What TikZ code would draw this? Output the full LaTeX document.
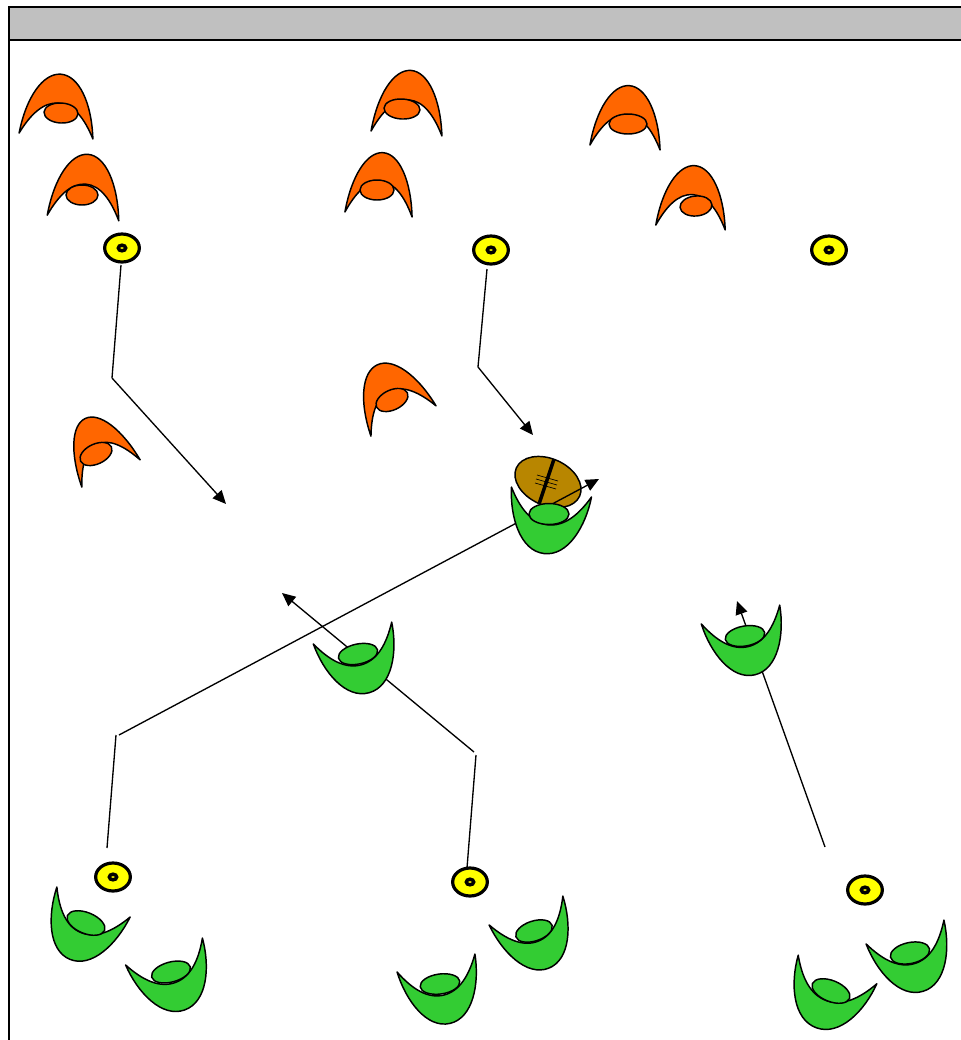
\documentclass[tikz,border=0pt]{standalone}
\usetikzlibrary{arrows.meta,shapes.geometric}
\definecolor{orangepl}{RGB}{255,102,0}
\definecolor{greenpl}{RGB}{51,204,51}
\definecolor{yellowpl}{RGB}{255,255,0}
\definecolor{ballbrown}{RGB}{184,134,0}
\definecolor{headgray}{RGB}{192,192,192}
\tikzset{
  outline/.style={draw=black,line width=1.1pt,line join=round},
  run/.style={draw=black,line width=1pt,-{Triangle[length=10pt,width=9pt]}},
  ring/.style={ellipse,draw=black,fill=yellowpl,line width=2.4pt,minimum width=26pt,minimum height=21pt,inner sep=0pt},
  hub/.style={ellipse,draw=black,fill=yellowpl,line width=2.6pt,minimum width=5.5pt,minimum height=4.2pt,inner sep=0pt},
}
\newcommand{\ctrlX}{33}
\newcommand{\ctrlY}{36}
\newcommand{\ctrlZ}{18}
\newcommand{\pbody}[6]{%
  \begin{scope}[shift={(#1,#2)},rotate=#3,x=0.75pt,y=0.75pt,xscale=#4,yscale=#5]
    \path[outline,fill=#6] (-37,0) .. controls (-\ctrlX,\ctrlY) and (-\ctrlZ,62) .. (0,62)
      .. controls (\ctrlZ,62) and (\ctrlX,\ctrlY) .. (37,0)
      .. controls (27,20) and (15,33) .. (0,33)
      .. controls (-15,33) and (-27,20) .. (-37,0) -- cycle;
  \end{scope}}
\newcommand{\pell}[6]{%
  \begin{scope}[shift={(#1,#2)},rotate=#5,x=0.75pt,y=0.75pt]
    \path[outline,fill=#6] (0,0) ellipse [x radius=#3,y radius=#4];
  \end{scope}}
\begin{document}
\begin{tikzpicture}[x=0.75pt,y=-0.75pt]
\useasboundingbox (0,0) rectangle (961,1040);
% frame
\path[fill=headgray] (9,7) rectangle (961,40);
\draw[black,line width=1.5pt] (961,7) -- (9,7) -- (9,1040);
\draw[black,line width=1.5pt] (9,40) -- (961,40);
% orange players
\pbody{56}{136}{-4.6}{1}{1}{orangepl}\pell{61}{113}{17}{10}{-3}{orangepl}
\pbody{83}{218}{-4.5}{.97}{1.03}{orangepl}\pell{82}{195}{16}{10}{0}{orangepl}
\pbody{406.5}{133.5}{-4}{.96}{1.02}{orangepl}\pell{402}{109}{18}{10}{-3}{orangepl}
\pbody{378.5}{214.5}{-4.3}{.91}{1}{orangepl}\pell{377}{190}{17}{10}{0}{orangepl}
\pbody{625}{147.5}{-4}{.95}{1}{orangepl}\pell{628}{124}{19}{10}{0}{orangepl}
\pbody{690.5}{227.5}{-4}{.94}{1}{orangepl}\pell{696}{206}{16}{10}{5}{orangepl}
\pbody{403.5}{421}{25}{.97}{1}{orangepl}\pell{392}{400}{17}{10}{25}{orangepl}
\pbody{111}{473.5}{25}{.87}{.98}{orangepl}\pell{96}{454}{17}{10}{25}{orangepl}
% ball
\node[ellipse,draw=black,fill=ballbrown,line width=1.1pt,minimum width=52pt,minimum height=35pt,inner sep=0pt,rotate=-24] (ball) at (548,482) {};
\coordinate (stripeA) at (554,459);
\coordinate (stripeB) at (539,504);
\draw[black,line width=2.6pt] (stripeA) -- (stripeB);
\coordinate (lA1) at (537,475); \coordinate (lA2) at (558,481);
\coordinate (lB1) at (536,479); \coordinate (lB2) at (557,485);
\coordinate (lC1) at (535,483); \coordinate (lC2) at (556,489);
\draw[black,line width=.5pt] (lA1) -- (lA2) (lB1) -- (lB2) (lC1) -- (lC2);
% yellow rings
\node[ring] (y1) at (122,248) {}; \node[hub] at (122,248) {};
\node[ring] (y2) at (491,250) {}; \node[hub] at (491,250) {};
\node[ring] (y3) at (829,250) {}; \node[hub] at (829,250) {};
\node[ring] (y4) at (113,877) {}; \node[hub] at (113,877) {};
\node[ring] (y5) at (470,882) {}; \node[hub] at (470,882) {};
\node[ring] (y6) at (865,890) {}; \node[hub] at (865,890) {};
% connectors
\coordinate (a1) at (121,265); \coordinate (a2) at (112,378); \coordinate (a3) at (226,504);
\coordinate (b1) at (487,269); \coordinate (b2) at (478,367); \coordinate (b3) at (533,435);
\coordinate (c1) at (107,848); \coordinate (c2) at (116,735); \coordinate (c3) at (119,735); \coordinate (c4) at (599,479);
\coordinate (d1) at (467,868); \coordinate (d2) at (476,755); \coordinate (d3) at (474,752); \coordinate (d4) at (282,593);
\coordinate (e1) at (825,847); \coordinate (e2) at (737,601);
\draw[black,line width=1pt] (a1) -- (a2);
\draw[run] (a2) -- (a3);
\draw[black,line width=1pt] (b1) -- (b2);
\draw[run] (b2) -- (b3);
\draw[black,line width=1pt] (c1) -- (c2);
\draw[run] (c3) -- (c4);
\draw[black,line width=1pt] (d1) -- (d2);
\draw[run] (d3) -- (d4);
\draw[run] (e1) -- (e2);
% green players
\renewcommand{\ctrlX}{35}\renewcommand{\ctrlY}{30}\renewcommand{\ctrlZ}{22}
\pbody{551.5}{492}{173}{1.09}{1}{greenpl}\pell{549}{514}{20}{10.5}{0}{greenpl}
\pbody{352.5}{633}{195.6}{1.1}{1}{greenpl}\pell{358}{654}{20}{10}{12}{greenpl}
\pbody{740.5}{614.5}{193.5}{1.09}{1}{greenpl}\pell{745}{636}{20}{10}{10}{greenpl}
\pbody{93.5}{902}{157.7}{1.07}{1}{greenpl}\pell{86}{923}{20}{10.5}{-22}{greenpl}
\pbody{164}{951.5}{199.3}{1.1}{1}{greenpl}\pell{171}{972}{20}{10}{15}{greenpl}
\pbody{526}{910.5}{201.4}{1.07}{1}{greenpl}\pell{534}{931}{19}{10}{18}{greenpl}
\pbody{436}{963}{193}{1.08}{1}{greenpl}\pell{440}{984}{20}{10}{8}{greenpl}
\pbody{837.5}{969.5}{160}{1.13}{1}{greenpl}\pell{831}{991}{20}{10.5}{-22}{greenpl}
\pbody{905}{932}{197}{1.1}{1}{greenpl}\pell{910}{953}{20}{10.5}{12}{greenpl}
\end{tikzpicture}
\end{document}
